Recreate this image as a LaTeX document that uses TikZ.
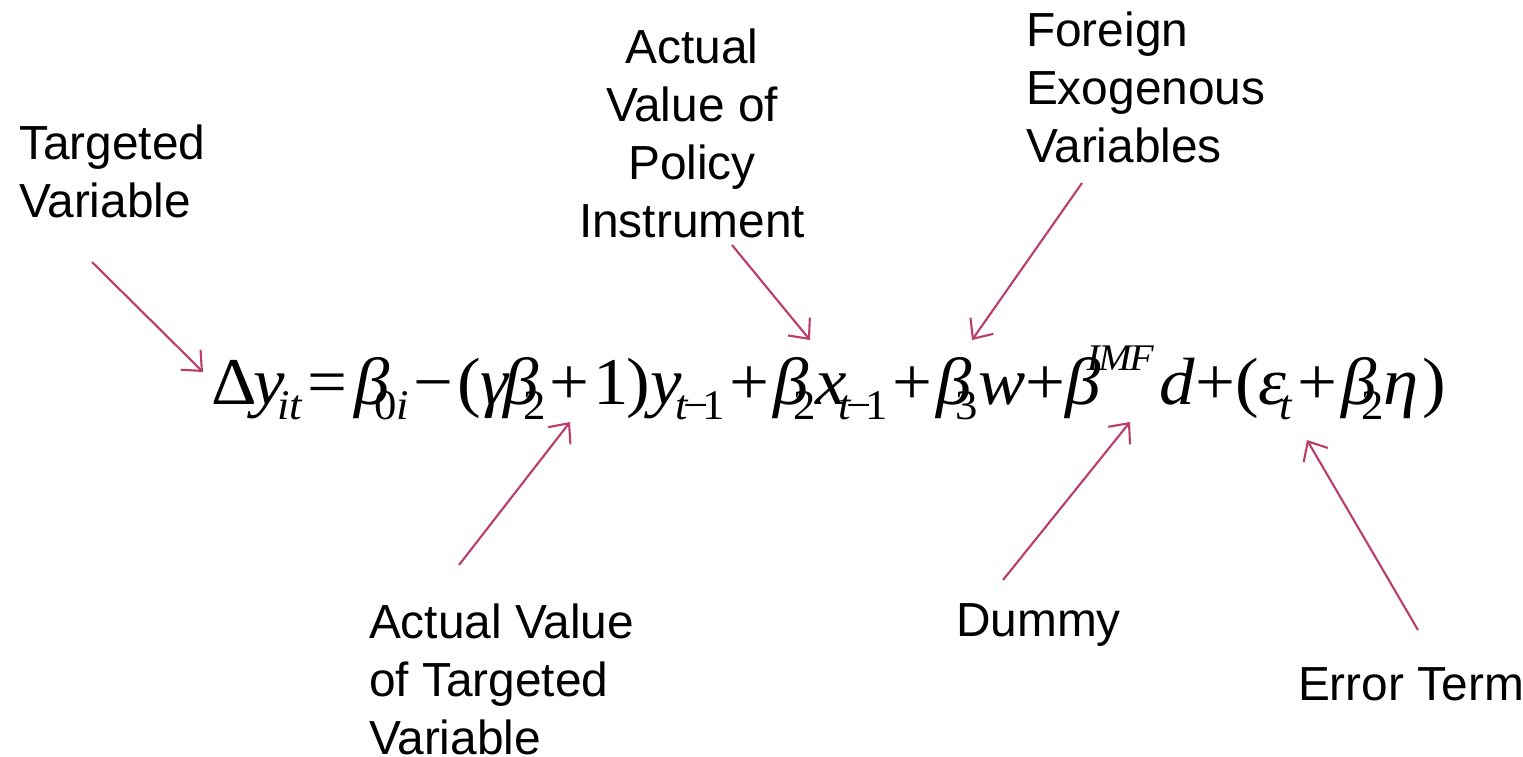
\documentclass[tikz,border=0pt]{standalone}
\usepackage{fontspec}
\setmainfont{Liberation Sans}
\newfontfamily\eqfont{Liberation Serif}
\usetikzlibrary{arrows.meta}
\definecolor{ink}{HTML}{000000}
\definecolor{rose}{HTML}{BA3D6C}
\newcommand\lo[2][0.22em]{\kern-#1\raisebox{-4.5pt}{\fontsize{12}{12}\selectfont #2}}
\newcommand\hi[2][0.15em]{\kern-#1\raisebox{9.6pt}{\fontsize{10.7}{11}\selectfont #2}}
\newcommand\tmo{\textit{t}\kern-0.13em−\kern-0.13em1}
\newcommand\op[1]{\hspace{0.06em}#1\hspace{0.06em}}

\begin{document}
\begin{tikzpicture}[x=0.01cm,y=-0.01cm,line width=.6pt,every node/.style={font=\fontsize{13.6}{16.5}\selectfont,text=ink,inner sep=0pt},lbl/.style={align=left,anchor=north west},pointer/.style={-{Straight Barb[length=4.5pt,width=8pt]},rose}]
\path[use as bounding box] (0,0) rectangle (1523,756);

% the equation
\node[anchor=base west,font=\eqfont\fontsize{19}{19}\selectfont] (eq) at (210,404) {\scalebox{1.06}[1]{Δ\kern-0.05em\textit{y}\lo[0.1em]{\textit{it}}\op{=}\kern0.04em\textit{β}\lo{0\textit{i}}\op{−}(\textit{γ}\kern-0.1em\textit{β}\lo{2}\op{+}1\kern-0.04em)\textit{y}\lo[0.08em]{\tmo}\op{+}\textit{β}\lo{2}\textit{x}\lo[0.12em]{\tmo}\op{+}\textit{β}\lo{3}\textit{w}+\textit{β}\hi[0.2em]{\textit{I}\kern-0.08em\textit{M}\kern-0.1em\textit{F}}\kern0.08em\textit{d}+(\textit{ε}\lo[0.1em]{\textit{t}}\op{+}\textit{β}\lo{2}\textit{η}\kern0.05em)}};

% labels
\node[lbl] (target) at (18,124) {Targeted\\Variable};
\node[align=center,anchor=north] (policy) at (692,28) {Actual\\Value of\\Policy\\Instrument};
\node[lbl] (foreign) at (1025,11) {Foreign\\Exogenous\\Variables};
\node[lbl] (actual) at (368,603) {Actual Value\\of Targeted\\Variable};
\node[lbl] (dummy) at (955,603) {Dummy};
\node[lbl] (error) at (1297,667) {Error Term};

% arrow ends
\coordinate (t1) at (92,262);   \coordinate (h1) at (203,372);
\coordinate (t2) at (732,245);  \coordinate (h2) at (810,340);
\coordinate (t3) at (1082,183); \coordinate (h3) at (972,340);
\coordinate (t4) at (459,565);  \coordinate (h4) at (570,422);
\coordinate (t5) at (1003,580); \coordinate (h5) at (1130,422);
\coordinate (t6) at (1418,630); \coordinate (h6) at (1307,440);

\draw[pointer] (t1)--(h1);
\draw[pointer] (t2)--(h2);
\draw[pointer] (t3)--(h3);
\draw[pointer] (t4)--(h4);
\draw[pointer] (t5)--(h5);
\draw[pointer] (t6)--(h6);

\end{tikzpicture}
\end{document}
